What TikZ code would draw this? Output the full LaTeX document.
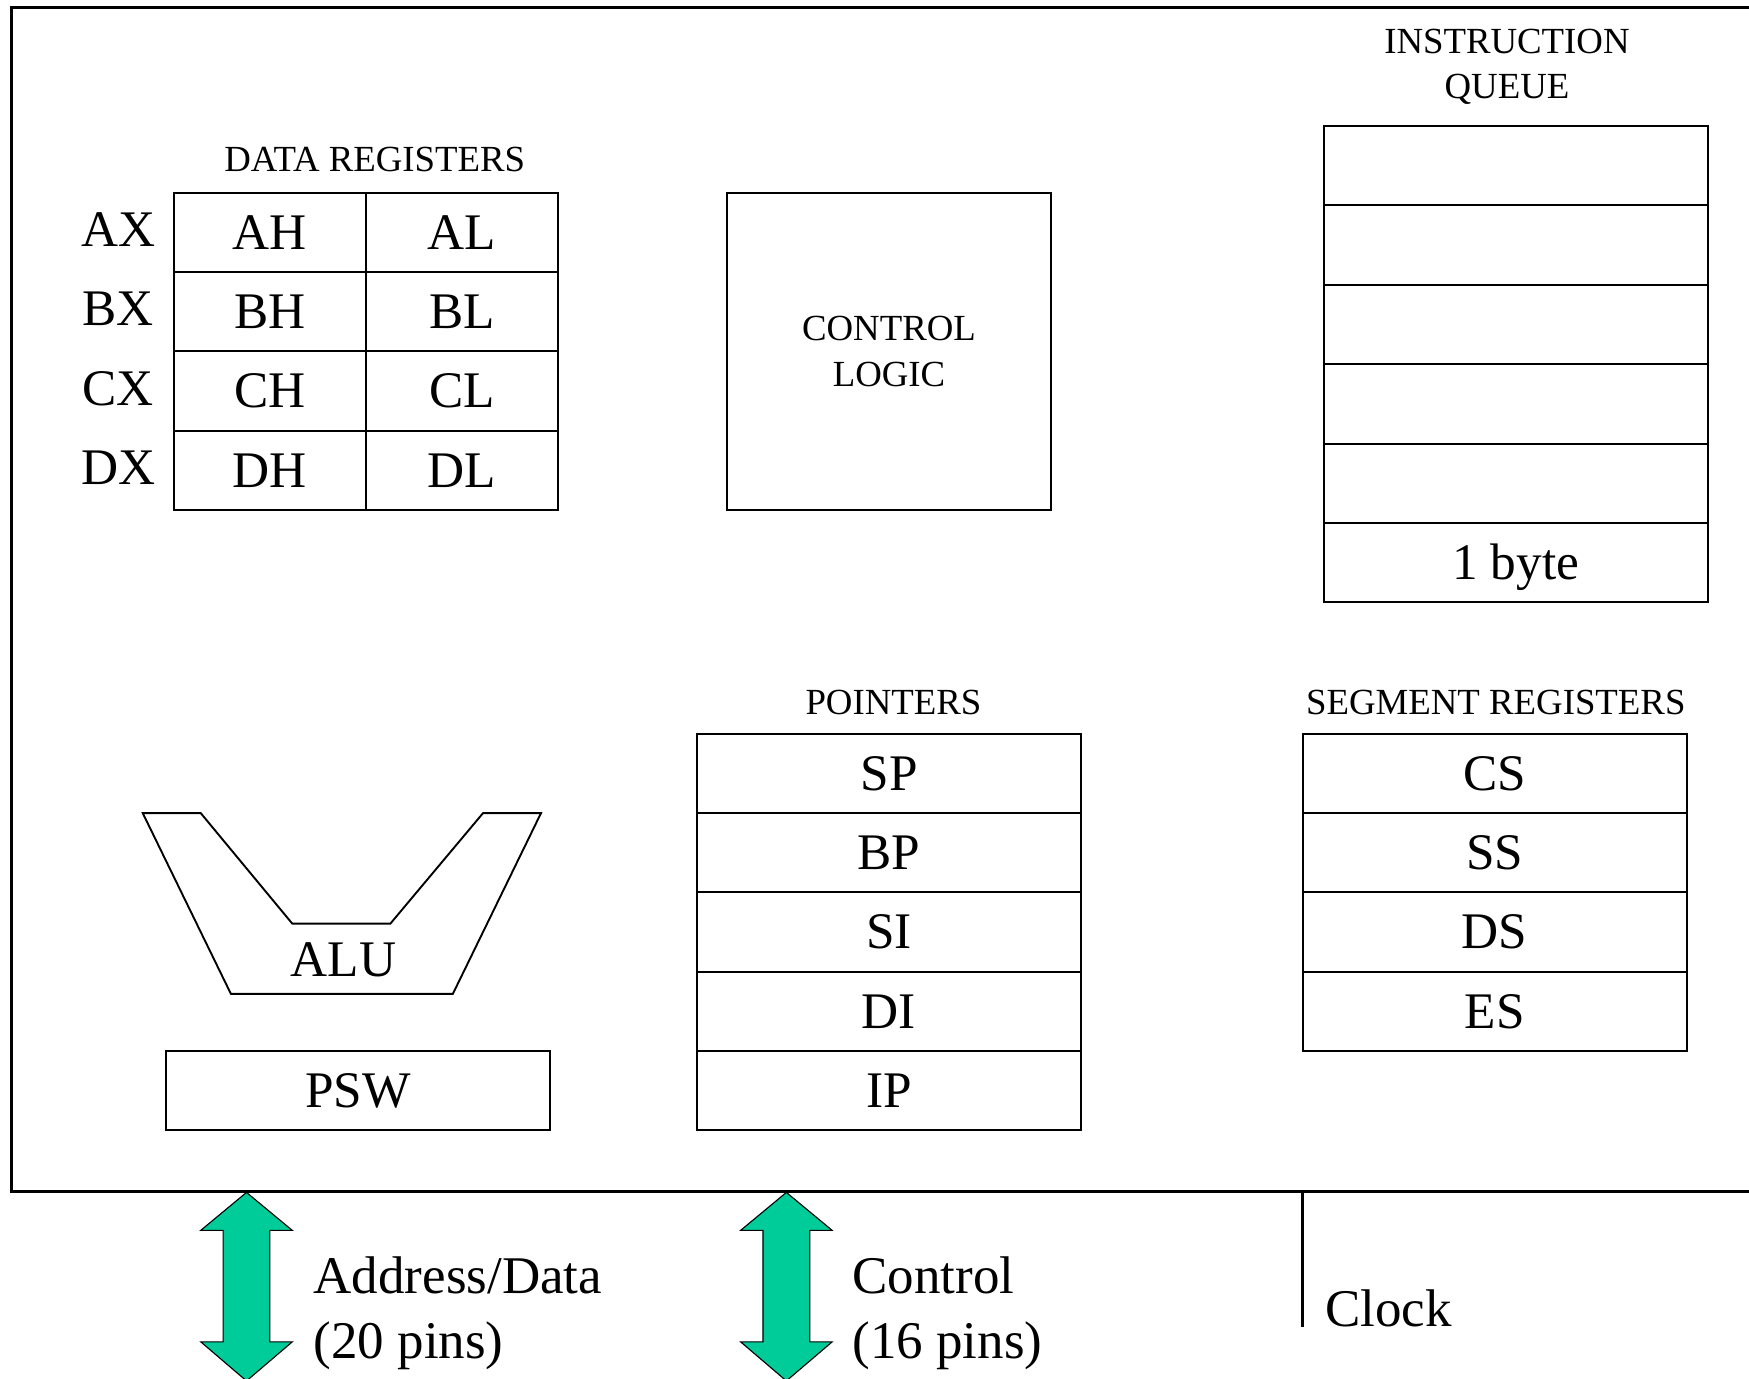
\documentclass[tikz,border=0pt]{standalone}
\usepackage{fontspec}
\setmainfont{Liberation Serif}
\definecolor{busgreen}{RGB}{0,204,153}
\newcommand{\bigtext}{\fontsize{46}{55}\selectfont}
\newcommand{\pinfont}{\fontsize{47.5}{57}\selectfont}
\newcommand{\smalltext}{\fontsize{33}{41}\selectfont}
\tikzset{
  frame/.style={line width=2.6pt},
  thin/.style={line width=1.7pt},
  celltext/.style={inner sep=0pt, text height=30.5pt, text depth=0pt, font=\bigtext},
  cell/.style={celltext, draw, thin, minimum width=#1, minimum height=71pt},
  cell/.default=344pt,
  caplabel/.style={inner sep=0pt, text height=21.8pt, text depth=0pt, font=\smalltext},
  pintext/.style={inner sep=0pt, anchor=base west, font=\pinfont},
  busarrow/.style={fill=busgreen, draw=black, line width=1pt, line join=miter}
}
\begin{document}
\begin{tikzpicture}[x=1pt,y=-1pt]
\useasboundingbox (0,0) rectangle (1568,1236);
\clip (0,0) rectangle (1568,1236);

% processor outline (continues past the right edge)
\draw[frame] (1600,7) -- (10,7) -- (10,1068) -- (1600,1068);

% data registers
\node[caplabel] (dreglbl) at (336,143) {DATA REGISTERS};
\foreach \hi/\lo/\pair [count=\i from 0] in {AH/AL/AX, BH/BL/BX, CH/CL/CX, DH/DL/DX} {
  \node[cell=172pt] (h\i) at (242,{208.5+71*\i}) {\hi};
  \node[cell=172pt] (l\i) at (414,{208.5+71*\i}) {\lo};
  \node[celltext] (x\i) at (106,{206+71*\i}) {\pair};
}

% control logic
\node[draw, thin, minimum width=290pt, minimum height=284pt, inner sep=0pt,
      align=center, font=\smalltext] (ctl) at (797,315) {CONTROL\\LOGIC};

% instruction queue
\node[font=\smalltext, align=center, inner sep=0pt] (iqlbl) at (1351,60) {INSTRUCTION\\QUEUE};
\foreach \i in {0,...,4} {
  \node[cell, minimum height=71.17pt] (q\i) at (1359,{148.6+71.17*\i}) {};
}
\node[cell, minimum height=71.17pt] (q5) at (1359,504.4) {1 byte};

% pointers
\node[caplabel] (ptrlbl) at (801,630) {POINTERS};
\foreach \r [count=\i from 0] in {SP,BP,SI,DI,IP} {
  \node[cell] (p\i) at (797,{693.5+71*\i}) {\r};
}

% segment registers
\node[caplabel] (seglbl) at (1341,630) {SEGMENT REGISTERS};
\foreach \r [count=\i from 0] in {CS,SS,DS,ES} {
  \node[cell] (s\i) at (1340,{693.5+71*\i}) {\r};
}

% ALU and flags
\draw[thin, line join=miter] (128,729) -- (180,729) -- (262,828) -- (350,828)
  -- (433,729) -- (485,729) -- (406,891) -- (207,891) -- cycle;
\node[celltext] (alu) at (308,860) {ALU};
\node[cell] (psw) at (321,977.5) {PSW};

% external buses
\foreach \cx/\nm in {221/ad, 705/ct} {
  \draw[busarrow] (\cx,1069) -- ++(41,34) -- ++(-20,0) -- ++(0,100) -- ++(20,0)
    -- (\cx,1238) -- ++(-41,-35) -- ++(20,0) -- ++(0,-100) -- ++(-20,0) -- cycle;
}
\node[pintext] (adtop) at (281,1160) {Address/Data};
\node[pintext] (adbot) at (281,1218) {(20 pins)};
\node[pintext] (cttop) at (764,1160) {Control};
\node[pintext] (ctbot) at (764,1218) {(16 pins)};

% clock input
\coordinate (clktop) at (1168,1068);
\coordinate (clkend) at (1168,1190);
\draw[frame] (clktop) -- (clkend);
\node[pintext] (clk) at (1188,1189) {Clock};
\end{tikzpicture}
\end{document}
